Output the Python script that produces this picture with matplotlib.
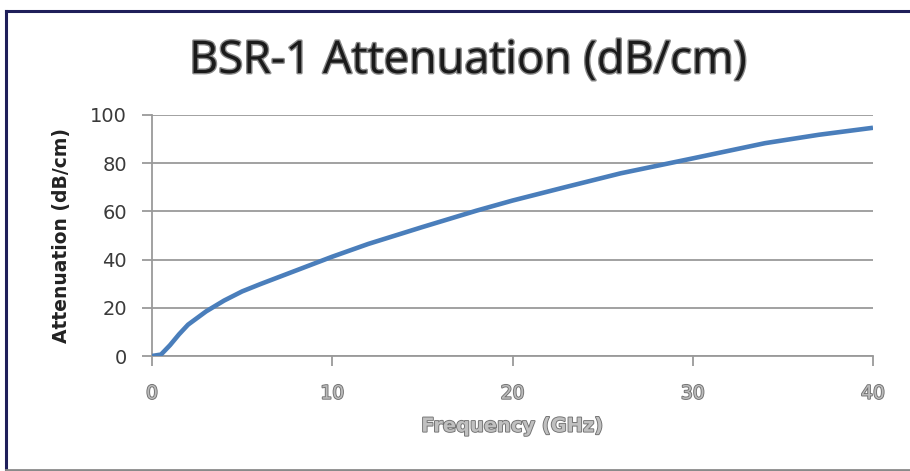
import matplotlib
matplotlib.use("Agg")
import matplotlib.pyplot as plt
from matplotlib.lines import Line2D
import matplotlib.patheffects as pe

# Data
freq_ghz = [0, 0.5, 1, 1.5, 2, 3, 4, 5, 6, 8, 10, 12, 15, 18, 20, 23, 26, 30, 34, 37, 40]
atten_db_cm = [0, 0.6, 4.5, 9.0, 13.0, 18.5, 23.0, 26.8, 29.8, 35.5, 41.2, 46.5, 53.5, 60.3, 64.5, 70.2, 75.8, 82.0, 88.3, 91.8, 94.7]
x_ticks = [0, 10, 20, 30, 40]
y_ticks = [0, 20, 40, 60, 80, 100]

title = "BSR-1 Attenuation (dB/cm)"
xlabel = "Frequency (GHz)"
ylabel = "Attenuation (dB/cm)"

fig = plt.figure(figsize=(9.10, 4.71), dpi=100)
ax = fig.add_axes([152/910, 115/471, (873-152)/910, (356-115)/471])

grid_c = "#9a9a9a"
ax.plot(freq_ghz, atten_db_cm, color="#4a7ebb", lw=3.3, solid_capstyle="butt", zorder=3)

ax.set_xlim(0, 40)
ax.set_ylim(0, 100)
ax.set_xticks(x_ticks)
ax.set_yticks(y_ticks)
ax.yaxis.grid(True, color=grid_c, lw=1.3)
ax.set_axisbelow(True)
for s in ["top", "right"]:
    ax.spines[s].set_visible(False)
for s in ["left", "bottom"]:
    ax.spines[s].set_color(grid_c)
    ax.spines[s].set_linewidth(1.3)
ax.tick_params(axis="both", direction="out", length=7, width=1.3, color=grid_c)
ax.tick_params(axis="y", pad=11, labelsize=14, labelcolor="#3a3a3a")
ax.tick_params(axis="x", pad=13, labelsize=13.5, labelcolor="#bbbbbb")
for lab in ax.get_yticklabels():
    lab.set_fontfamily("DejaVu Sans")
for lab in ax.get_xticklabels():
    lab.set_fontfamily("DejaVu Sans")
    lab.set_path_effects([pe.withStroke(linewidth=1.3, foreground="#707070")])

ax.set_ylabel(ylabel, fontsize=13.5, fontweight="bold", family="DejaVu Sans",
              color="#222222", labelpad=14)
xl = ax.set_xlabel(xlabel, fontsize=14, fontweight="bold", family="DejaVu Sans",
                   color="#c0c0c0", labelpad=10)
xl.set_path_effects([pe.withStroke(linewidth=1.3, foreground="#707070")])

fig.text(0.514, 1 - 73/471, title, ha="center", va="baseline",
         fontsize=32.5, family="Open Sans", color="#1a1a1a",
         path_effects=[pe.withStroke(linewidth=2.0, foreground="#8a8a8a")])

# chart frame
fig.add_artist(Line2D([6/910, 6/910], [1 - 11/471, 1 - 470/471], transform=fig.transFigure,
                      color="#1f1f5a", lw=2.2))
fig.add_artist(Line2D([6/910, 1], [1 - 11/471, 1 - 11/471], transform=fig.transFigure,
                      color="#1f1f5a", lw=2.2))
fig.add_artist(Line2D([6/910, 1], [1 - 470/471, 1 - 470/471], transform=fig.transFigure,
                      color="#8a8a8a", lw=2))

fig.savefig("out.png", dpi=100)
